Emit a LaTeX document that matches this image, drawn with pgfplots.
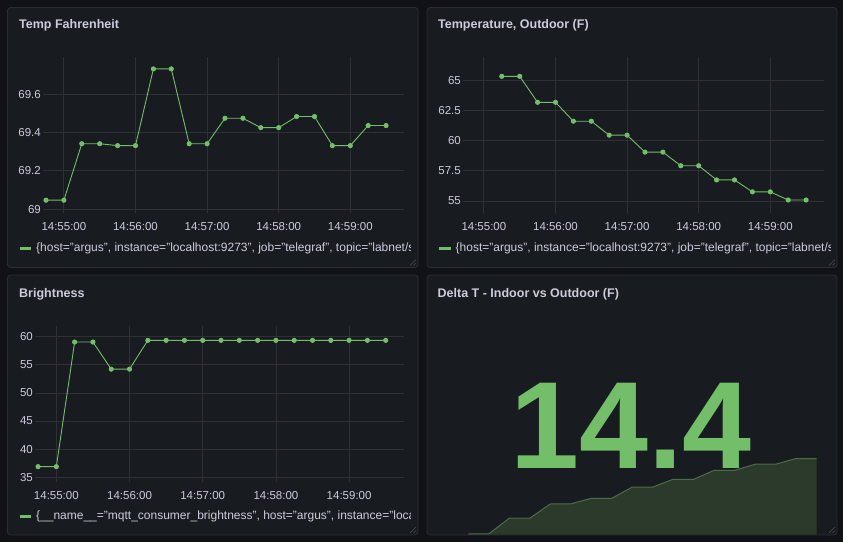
\documentclass[border=0pt]{standalone}
\usepackage{fontspec}
\setmainfont{Liberation Sans}
\usepackage{pgfplots}
\pgfplotsset{compat=1.18}
\definecolor{bg}{HTML}{111217}
\definecolor{panel}{HTML}{181B1F}
\definecolor{border}{HTML}{2A2D32}
\definecolor{gridc}{HTML}{2E3035}
\definecolor{txt}{HTML}{CCCCDC}
\definecolor{gr}{HTML}{73BF69}
\definecolor{sfill}{HTML}{2C3A2B}
\definecolor{sline}{HTML}{4E6B4A}
\pgfplotsset{
  dash/.style={
    scale only axis, anchor=south west,
    xmin=-17.5, xmax=285,
    axis line style={draw=none},
    major tick length=0pt,
    grid=major, grid style={color=gridc, line width=0.8pt},
    xtick={0,60,120,180,240},
    xticklabels={14:55:00,14:56:00,14:57:00,14:58:00,14:59:00},
    ticklabel style={font=\fontsize{11.5}{13}\selectfont, text=txt},
    xticklabel style={anchor=center, yshift=-13.5pt},
    yticklabel style={anchor=east, inner sep=0pt, xshift=-2pt},
    /pgf/number format/assume math mode=true,
  },
  ser/.style={color=gr, line width=0.9pt, mark=*, mark size=2.1pt, mark options={fill=gr, draw=gr}},
}
\newcommand{\ptitle}{\fontsize{12.5}{15}\selectfont\bfseries}
\newcommand{\leg}{\fontsize{12}{14}\selectfont}
\begin{document}
\begin{tikzpicture}[x=1pt,y=1pt]
\fill[bg] (0,0) rectangle (843,-542);
% panels
\foreach \xa/\ya/\xb/\yb in {7.5/-7.5/418/-267.5, 427/-7.5/837/-267.5, 7.5/-275/418/-535, 427/-275/837/-535}{
  \filldraw[fill=panel, draw=border, line width=0.8pt, rounded corners=3pt] (\xa,\ya) rectangle (\xb,\yb);
  \draw[color=gray!60!black, line width=0.6pt] (\xb-2,\yb+8) -- (\xb-8,\yb+2) (\xb-2,\yb+4.5) -- (\xb-4.5,\yb+2);
}
% titles
\node[anchor=west, text=txt, font=\ptitle, inner sep=0pt] at (19,-25) {Temp Fahrenheit};
\node[anchor=west, text=txt, font=\ptitle, inner sep=0pt] at (438,-25) {Temperature, Outdoor (F)};
\node[anchor=west, text=txt, font=\ptitle, inner sep=0pt] at (19,-294) {Brightness};
\node[anchor=west, text=txt, font=\ptitle, inner sep=0pt] at (437.5,-294) {Delta T - Indoor vs Outdoor (F)};

% Panel 1
\begin{axis}[dash, at={(43pt,-213pt)}, width=361pt, height=156pt,
  ymin=68.98, ymax=69.795,
  ytick={69,69.2,69.4,69.6}, yticklabels={69,69.2,69.4,69.6}]
\addplot[ser] coordinates {
(-15,69.047) (0,69.047) (15,69.342) (30,69.342) (45,69.332) (60,69.332)
(75,69.733) (90,69.733) (105,69.342) (120,69.342) (135,69.475) (150,69.475)
(165,69.426) (180,69.426) (195,69.484) (210,69.484) (225,69.332) (240,69.332)
(255,69.437) (270,69.437)};
\end{axis}

% Panel 2
\begin{axis}[dash, at={(463pt,-213pt)}, width=361pt, height=156.3pt,
  ymin=54.0, ymax=66.99,
  ytick={55,57.5,60,62.5,65}, yticklabels={55,57.5,60,62.5,65}]
\addplot[ser] coordinates {
(15,65.36) (30,65.36) (45,63.20) (60,63.20) (75,61.63) (90,61.63)
(105,60.47) (120,60.47) (135,59.06) (150,59.06) (165,57.93) (180,57.93)
(195,56.75) (210,56.75) (225,55.76) (240,55.76) (255,55.08) (270,55.08)};
\end{axis}

% Panel 3
\begin{axis}[dash, at={(35pt,-482pt)}, width=369pt, height=156pt,
  ymin=34.17, ymax=61.9,
  ytick={35,40,45,50,55,60}, yticklabels={35,40,45,50,55,60}]
\addplot[ser] coordinates {
(-15,36.9) (0,36.9) (15,59.05) (30,59.05) (45,54.23) (60,54.23)
(75,59.35) (90,59.35) (105,59.35) (120,59.35) (135,59.35) (150,59.35)
(165,59.35) (180,59.35) (195,59.35) (210,59.35) (225,59.35) (240,59.35)
(255,59.35) (270,59.35)};
\end{axis}

% Panel 4 sparkline
\begin{axis}[scale only axis, anchor=south west, at={(424pt,-534.5pt)}, width=413pt, height=100pt,
  xmin=-17.5, xmax=285, ymin=3.88, ymax=17.67, hide axis]
\addplot[fill=sfill, draw=none] coordinates {
(15,3.98) (30,3.98) (45,6.13) (60,6.13) (75,8.10) (90,8.10)
(105,8.87) (120,8.87) (135,10.42) (150,10.42) (165,11.50) (180,11.50)
(195,12.73) (210,12.73) (225,13.57) (240,13.57) (255,14.36) (270,14.36)} \closedcycle;
\addplot[color=sline, line width=1pt] coordinates {
(15,3.98) (30,3.98) (45,6.13) (60,6.13) (75,8.10) (90,8.10)
(105,8.87) (120,8.87) (135,10.42) (150,10.42) (165,11.50) (180,11.50)
(195,12.73) (210,12.73) (225,13.57) (240,13.57) (255,14.36) (270,14.36)};
\end{axis}
\node[anchor=base, text=gr, font=\fontsize{124}{124}\selectfont\bfseries, inner sep=0pt] at (631,-468) {14.4};

% legends
\draw[gr, line width=3pt] (19.5,-248.3) -- (31,-248.3);
\draw[gr, line width=3pt] (439,-248.3) -- (450.5,-248.3);
\draw[gr, line width=3pt] (19.5,-516.7) -- (31,-516.7);
\begin{scope}
\clip (33,-238) rectangle (410.5,-260);
\node[anchor=west, text=txt, font=\leg, inner sep=0pt] at (36,-248.3) {\{host="argus", instance="localhost:9273", job="telegraf", topic="labnet/sensors/temp"\}};
\end{scope}
\begin{scope}
\clip (452,-238) rectangle (830,-260);
\node[anchor=west, text=txt, font=\leg, inner sep=0pt] at (455.5,-248.3) {\{host="argus", instance="localhost:9273", job="telegraf", topic="labnet/sensors/outdoor"\}};
\end{scope}
\begin{scope}
\clip (33,-506) rectangle (410.5,-528);
\node[anchor=west, text=txt, font=\leg, inner sep=0pt] at (36,-516.7) {\{\_\_name\_\_="mqtt\_consumer\_brightness", host="argus", instance="localhost:9273"\}};
\end{scope}
\end{tikzpicture}
\end{document}
